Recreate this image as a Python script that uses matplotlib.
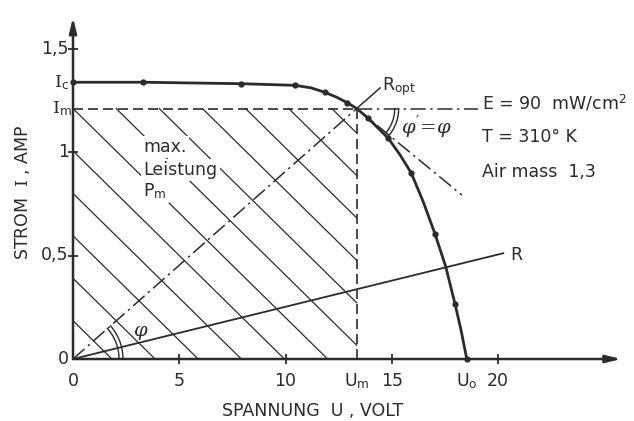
import numpy as np
import matplotlib
matplotlib.use("Agg")
import matplotlib.pyplot as plt

plt.rcParams['font.family'] = ['DejaVu Sans']
plt.rcParams['mathtext.fontset'] = 'custom'
plt.rcParams['mathtext.rm'] = 'DejaVu Serif'
plt.rcParams['mathtext.sf'] = 'DejaVu Sans'
plt.rcParams['mathtext.it'] = 'DejaVu Serif:italic'

# I-U characteristic of the solar panel
U_curve = [0, 3.31, 7.91, 10.45, 11.2, 11.86, 12.4, 12.91, 13.35, 13.88,
           14.84, 15.39, 15.91, 16.48, 17.04, 17.54, 17.98, 18.26, 18.53]
I_curve = [1.337, 1.337, 1.330, 1.322, 1.31, 1.288, 1.265, 1.238, 1.21, 1.164,
           1.066, 0.986, 0.900, 0.760, 0.603, 0.446, 0.265, 0.140, 0.0]

# measured points
U_meas = [0, 3.31, 7.91, 10.45, 11.86, 12.91, 13.88, 14.84, 15.91, 17.04, 17.98, 18.53]
I_meas = [1.337, 1.337, 1.330, 1.322, 1.288, 1.238, 1.164, 1.066, 0.900, 0.603, 0.265, 0.0]

I_c = 1.337
U_m, I_m = 13.35, 1.21
U_o = 18.53
tangent_end = (18.3, 0.792)
R_end = (20.25, 0.511)
Ropt_end = 14.45

x_ticks = [5, 10, 15, 20]
x_labels = ['0', '5', '10', '15', '20']
y_ticks = [0.5, 1.0, 1.5]
y_labels = ['0', '0,5', '1', '1,5']

ink = '#2b2b2b'
px_u, px_i = 21.25, 207.0   # pixels per volt / per amp

fig = plt.figure(figsize=(6.34, 4.21), dpi=100)
ax = fig.add_axes([0, 0, 1, 1])
ax.set_xlim(-73 / px_u, (634 - 73) / px_u)
ax.set_ylim((359 - 421) / px_i, 359 / px_i)
ax.axis('off')

# axes with arrows
arr = dict(arrowstyle='-|>,head_length=0.9,head_width=0.22', color=ink, lw=1.8,
           shrinkA=0, shrinkB=0)
ax.annotate('', xy=(25.8, 0), xytext=(0, 0), arrowprops=arr)
ax.annotate('', xy=(0, 1.65), xytext=(0, 0), arrowprops=arr)
ax.plot(x_ticks, [0] * len(x_ticks), ls='none', marker='|', ms=7, mew=1.3, color=ink)
ax.plot([0] * len(y_ticks), y_ticks, ls='none', marker='_', ms=7, mew=1.3, color=ink)

# hatched area of the max. power rectangle
slope, step = 0.101, 0.205
for k in range(-5, 7):
    c = I_m + k * step
    u = np.array([max(0, (c - I_m) / slope), min(U_m, c / slope)])
    if u[1] <= u[0]:
        continue
    ax.plot(u, c - slope * u, color=ink, lw=0.9)

ax.plot([0, U_m], [I_m, I_m], color=ink, lw=1.2, ls=(0, (6, 3)))
ax.plot([U_m, U_m], [0, I_m], color=ink, lw=1.2, ls=(0, (6, 3)))

# characteristic
ax.plot(U_curve, I_curve, color=ink, lw=2.0, solid_capstyle='round')
ax.plot(U_meas, I_meas, ls='none', marker='o', ms=3.5, color=ink)

# load lines
ax.plot([0, U_m], [0, I_m], color=ink, lw=1.1, ls=(0, (10, 3, 1.5, 3)))
ax.plot([U_m, Ropt_end], [I_m, I_m / U_m * Ropt_end], color=ink, lw=1.1)
ax.plot([0, R_end[0]], [0, R_end[1]], color=ink, lw=1.3)
ax.plot([U_m, 19.06], [I_m, I_m], color=ink, lw=1.1, ls=(0, (10, 3, 1.5, 3)))
ax.plot([U_m, tangent_end[0]], [I_m, tangent_end[1]], color=ink, lw=1.1,
        ls=(0, (10, 3, 1.5, 3)))

# angle arcs
def arc(u0, i0, r, a0, a1):
    t = np.linspace(np.radians(a0), np.radians(a1), 40)
    ax.plot(u0 + r * np.cos(t) / px_u, i0 + r * np.sin(t) / px_i, color=ink, lw=1.0)

a_opt = np.degrees(np.arctan(I_m / U_m * px_i / px_u))
a_tan = np.degrees(np.arctan((tangent_end[1] - I_m) / (tangent_end[0] - U_m) * px_i / px_u))
for r in (46, 50):
    arc(0, 0, r, 0, a_opt)
for r in (38, 42):
    arc(U_m, I_m, r, a_tan, 0)

fs = 12.5
tk = dict(color=ink, fontsize=fs)

# tick labels
for u, s in zip([0] + x_ticks, x_labels):
    ax.text(u, -0.106, s, ha='center', va='center', **tk)
ax.text(U_m, -0.106, r'$\mathsf{U}_\mathsf{m}$', ha='center', va='center', **tk)
ax.text(U_o, -0.106, r'$\mathsf{U}_\mathsf{o}$', ha='center', va='center', **tk)
for i, s in zip([0] + y_ticks, y_labels):
    ax.text(-0.2, i, s, ha='right', va='center', **tk)
ax.text(-0.2, I_c, r'$\mathrm{I}_\mathsf{c}$', ha='right', va='center', **tk)
ax.text(-0.05, I_m, r'$\mathrm{I}_\mathsf{m}$', ha='right', va='center', **tk)

ax.text(-2.4, 0.807, r'STROM  $\mathrm{I}$ , AMP', rotation=90, ha='center', va='center', **tk)
ax.text(11.27, -0.251, 'SPANNUNG  U , VOLT', ha='center', va='center', **tk)

box = dict(facecolor='white', edgecolor='none', pad=1.5)
ax.text(3.31, 1.0, 'max.', ha='left', va='baseline', bbox=box, **tk)
ax.text(3.31, 0.889, 'Leistung', ha='left', va='baseline', bbox=box, **tk)
ax.text(3.31, 0.784, r'$\mathsf{P}_\mathsf{m}$', ha='left', va='baseline', bbox=box, **tk)

ax.text(14.54, 1.30, r'$\mathsf{R}_\mathsf{opt}$', ha='left', va='baseline', **tk)
ax.text(20.56, 0.478, 'R', ha='left', va='baseline', **tk)
ax.text(19.23, 1.203, r'E = 90  mW/cm$^\mathsf{2}$', ha='left', va='baseline', **tk)
ax.text(19.23, 1.048, 'T = 310° K', ha='left', va='baseline', **tk)
ax.text(19.23, 0.879, 'Air mass  1,3', ha='left', va='baseline', **tk)
ax.text(16.66, 1.12, r"$\varphi'\!=\!\varphi$", ha='center', va='center', color=ink, fontsize=14)
ax.text(3.2, 0.13, r'$\varphi$', ha='center', va='center', color=ink, fontsize=14)

fig.savefig('out.png', dpi=100, facecolor='white')
